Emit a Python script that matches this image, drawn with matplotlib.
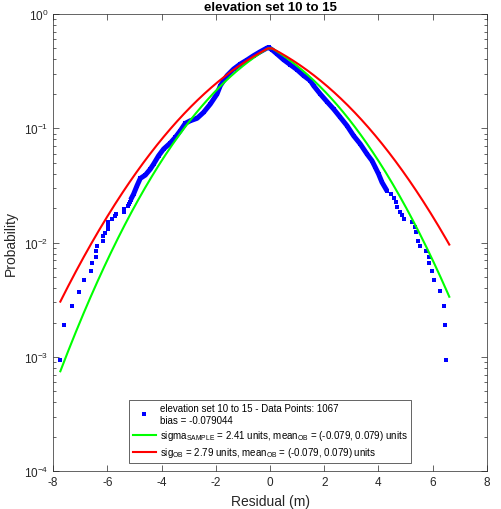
import math
import numpy as np
import matplotlib
matplotlib.use("Agg")
import matplotlib.pyplot as plt

plt.rcParams['font.family'] = ['Liberation Sans', 'DejaVu Sans']
plt.rcParams['mathtext.fontset'] = 'custom'
plt.rcParams['mathtext.rm'] = 'Liberation Sans'
plt.rcParams['mathtext.it'] = 'Liberation Sans'
plt.rcParams['axes.unicode_minus'] = False

# data
n_points = 1067
bias = -0.079044
sigma_sample = 2.41
sigma_ob = 2.79
mean_ob = (-0.079, 0.079)

# isolated points of the left tail
left_x = [-7.757, -7.594, -7.314, -7.056, -6.872, -6.588, -6.551, -6.429, -6.429,
          -6.378, -6.171, -6.157, -6.098, -5.987, -5.987, -5.987, -5.987, -5.825,
          -5.729, -5.666, -5.371, -5.371, -5.250, -5.213, -5.176, -5.139]
left_y = [9.4e-4, 1.89e-3, 2.81e-3, 3.72e-3, 4.71e-3, 5.68e-3, 6.59e-3, 7.48e-3, 8.44e-3,
          9.39e-3, 1.03e-2, 1.135e-2, 1.22e-2, 1.315e-2, 1.39e-2, 1.455e-2, 1.52e-2, 1.61e-2,
          1.70e-2, 1.79e-2, 1.86e-2, 1.97e-2, 2.09e-2, 2.19e-2, 2.28e-2, 2.37e-2]

# dense middle part (points overlap into a band)
band_x = [-5.139, -5.029, -4.903, -4.782, -4.597, -4.413, -4.291, -4.107, -3.923, -3.676,
          -3.491, -3.307, -3.123, -2.938, -2.691, -2.448, -2.201, -1.954, -1.832, -1.585,
          -1.342, -1.095, -0.848, -0.605, -0.358, -0.111, -0.05, 0.074, 0.258, 0.501,
          0.748, 0.995, 1.239, 1.486, 1.607, 1.854, 2.101, 2.345, 2.592, 2.839,
          3.082, 3.329, 3.576, 3.760, 3.882, 4.004, 4.129, 4.313]
band_y = [0.0237, 0.0266, 0.0315, 0.0365, 0.0390, 0.0440, 0.0487, 0.0576, 0.0659, 0.0744,
          0.0834, 0.0953, 0.1106, 0.1165, 0.1223, 0.138, 0.163, 0.1995, 0.236, 0.289,
          0.330, 0.365, 0.396, 0.432, 0.468, 0.504, 0.51, 0.487, 0.447, 0.398,
          0.360, 0.326, 0.289, 0.261, 0.236, 0.1995, 0.171, 0.1475, 0.1248, 0.1054,
          0.0861, 0.0729, 0.0596, 0.0521, 0.0456, 0.0398, 0.0337, 0.0284]

# isolated points of the right tail
right_x = [4.461, 4.583, 4.656, 4.682, 4.804, 4.866, 4.925, 5.235, 5.357, 5.383,
           5.456, 5.515, 5.736, 5.862, 5.862, 5.972, 6.031, 6.278, 6.400, 6.437, 6.500]
right_y = [0.0266, 0.0244, 0.0225, 0.0204, 0.0186, 0.0174, 0.0161, 0.01506, 0.01377, 0.0123,
           0.0104, 0.0094, 0.0085, 0.00753, 0.00659, 0.00568, 0.00471, 0.00375, 0.00281, 0.0019, 0.00094]

x_min, x_max = -7.73, 6.61


def tail_prob(x, sigma, lo, hi):
    # one-sided normal tail outside the interval (lo, hi)
    d = np.where(x < lo, lo - x, np.where(x > hi, x - hi, 0.0))
    return np.array([0.5 * math.erfc(v / (sigma * math.sqrt(2))) for v in d])


xs = np.linspace(x_min, x_max, 400)
green_y = tail_prob(xs, sigma_sample, *mean_ob)
red_y = tail_prob(xs, sigma_ob, *mean_ob)

fig = plt.figure(figsize=(5.02, 5.10), dpi=100)
ax = fig.add_axes([0.1056, 0.0739, 0.8645, 0.8967])

pts_x = left_x + band_x + right_x
pts_y = left_y + band_y + right_y
ax.plot(band_x, band_y, '-', color=(0, 0, 1), lw=3.6, solid_capstyle='butt')
ax.plot(pts_x, pts_y, 's', color=(0, 0, 1), ms=2.2, mew=0,
        label='elevation set 10 to 15 - Data Points: %d\nbias = %g' % (n_points, bias))
ax.plot(xs, green_y, color=(0, 1, 0), lw=1.5,
        label=r'sigma$_{\mathrm{SAMPLE}}$ = %.2f units, mean$_{\mathrm{OB}}$ = (%.3f, %.3f) units'
        % (sigma_sample, mean_ob[0], mean_ob[1]))
ax.plot(xs, red_y, color=(1, 0, 0), lw=1.5,
        label=r'sig$_{\mathrm{OB}}$ = %.2f units, mean$_{\mathrm{OB}}$ = (%.3f, %.3f) units'
        % (sigma_ob, mean_ob[0], mean_ob[1]))

ax.set_yscale('log')
ax.set_xlim(-8, 8)
ax.set_ylim(1e-4, 1e0)
ax.set_xticks(np.arange(-8, 9, 2))
ax.tick_params(which='both', direction='in', top=True, right=True, labelsize=8.5,
               colors='#262626', width=0.5)
ax.tick_params(which='major', length=4)
ax.tick_params(which='minor', length=2.2)
for s in ax.spines.values():
    s.set_color('#262626')
    s.set_linewidth(0.5)

ax.set_title('elevation set 10 to 15', fontsize=9.5, fontweight='bold', pad=3)
ax.set_xlabel('Residual (m)', fontsize=10, color='#262626')
ax.set_ylabel('Probability', fontsize=10, color='#262626')

leg = ax.legend(loc='lower center', bbox_to_anchor=(0.5, 0.008), fontsize=7,
                frameon=True, fancybox=False, framealpha=1, edgecolor='#262626',
                handlelength=2.4, handletextpad=0.4, borderpad=0.35, labelspacing=0.35,
                markerscale=1.0)
leg.get_frame().set_linewidth(0.5)

fig.savefig('out.png', dpi=100)
